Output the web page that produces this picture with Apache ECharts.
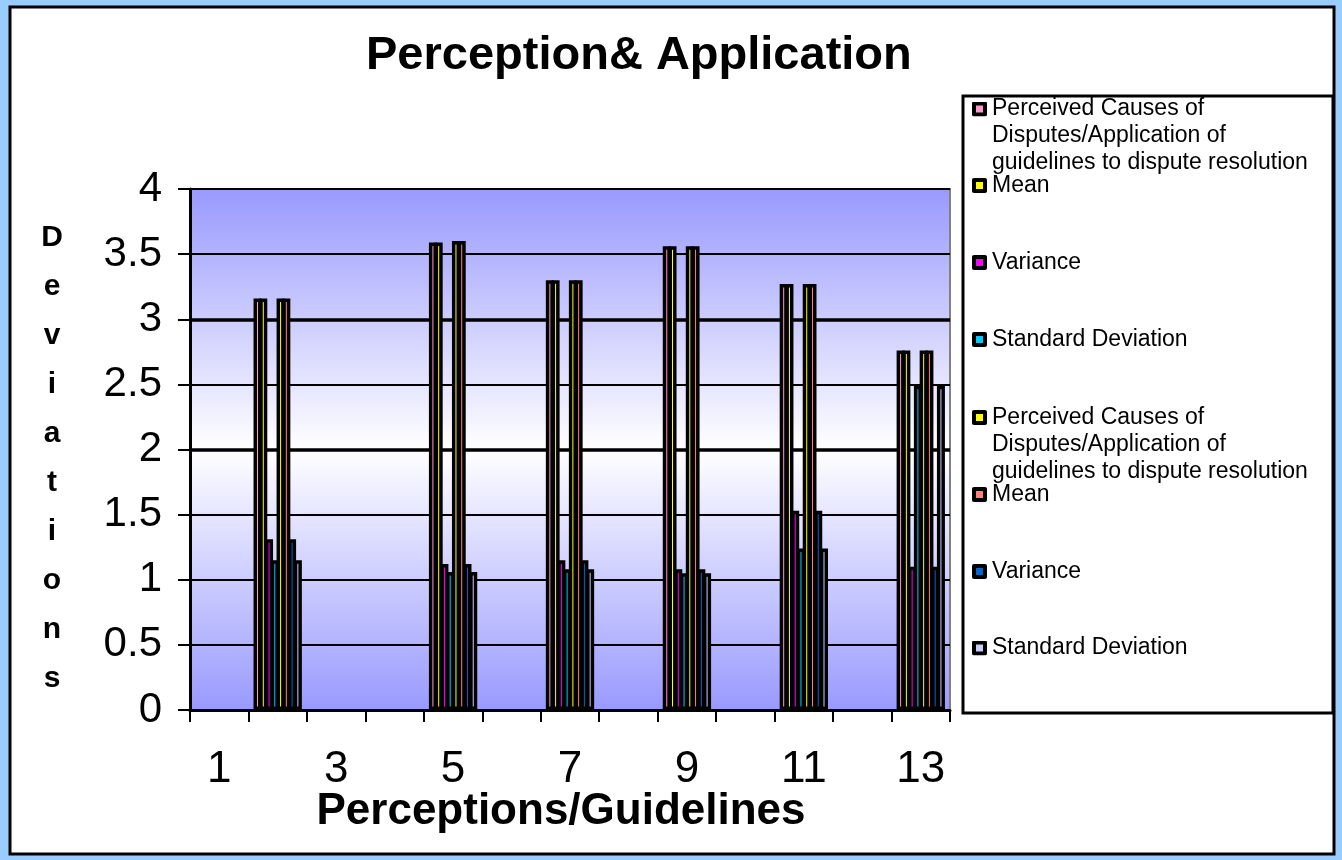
<!DOCTYPE html>
<html>
<head>
<meta charset="utf-8">
<script src="https://cdn.jsdelivr.net/npm/echarts@6/dist/echarts.min.js"></script>
<style>
  html, body { margin: 0; padding: 0; background: #99CCFF; }
  #chart { width: 1342px; height: 860px; }
</style>
</head>
<body>
<div id="chart"></div>
<script>
// Categories along the x axis (perceptions / guidelines 1..13)
const categories = ['1', '2', '3', '4', '5', '6', '7', '8', '9', '10', '11', '12', '13'];

// First block of statistics
const perceivedA = [null, 3.16, null, null, 3.59, null, 3.30, null, 3.56, null, 3.27, null, 2.76];
const meanA      = [null, 3.16, null, null, 3.59, null, 3.30, null, 3.56, null, 3.27, null, 2.76];
const varianceA  = [null, 1.31, null, null, 1.12, null, 1.15, null, 1.08, null, 1.53, null, 1.10];
const stdDevA    = [null, 1.15, null, null, 1.06, null, 1.08, null, 1.05, null, 1.24, null, 2.49];

// Second block of statistics
const perceivedB = [null, 3.16, null, null, 3.60, null, 3.30, null, 3.56, null, 3.27, null, 2.76];
const meanB      = [null, 3.16, null, null, 3.60, null, 3.30, null, 3.56, null, 3.27, null, 2.76];
const varianceB  = [null, 1.31, null, null, 1.12, null, 1.15, null, 1.08, null, 1.53, null, 1.10];
const stdDevB    = [null, 1.15, null, null, 1.06, null, 1.08, null, 1.05, null, 1.24, null, 2.49];

const perceivedLabel = 'Perceived Causes of\nDisputes/Application of\nguidelines to dispute resolution';
const seriesLabels = [perceivedLabel, 'Mean', 'Variance', 'Standard Deviation',
                      perceivedLabel, 'Mean', 'Variance', 'Standard Deviation'];
const seriesKeys = ['perceived-a', 'mean-a', 'variance-a', 'stddev-a',
                    'perceived-b', 'mean-b', 'variance-b', 'stddev-b'];
const seriesValues = [perceivedA, meanA, varianceA, stdDevA, perceivedB, meanB, varianceB, stdDevB];
const seriesColors = ['#FF99CC', '#FFFF00', '#FF00FF', '#00CCFF',
                      '#FFFF00', '#FF8080', '#0066CC', '#CCCCFF'];

const yTicks = { min: 0, max: 4, step: 0.5 };
// gridlines drawn heavier than the others
const heavyGridValues = [2, 3];
const titleText = 'Perception& Application';
const xAxisTitle = 'Perceptions/Guidelines';
const yAxisTitle = 'Deviations';

const FONT = '"Liberation Sans", Arial, sans-serif';

// vertical centre of each legend marker
const legendCentres = [109, 185.5, 262.5, 339.5, 417.5, 494.5, 571.5, 648];

// legend marker: black framed square filled with the series colour
function markerIcon(color) {
  const svg = '<svg xmlns="http://www.w3.org/2000/svg" width="15" height="15">' +
    '<rect x="0" y="0" width="15" height="15" rx="2" fill="#000"/>' +
    '<rect x="4" y="4" width="7" height="7" fill="' + color + '"/></svg>';
  return 'image://data:image/svg+xml;charset=utf-8,' + encodeURIComponent(svg);
}

const chart = echarts.init(document.getElementById('chart'), null, { renderer: 'canvas' });

const option = {
  backgroundColor: '#99CCFF',
  animation: false,
  title: {
    text: titleText,
    left: 366,
    top: 33,
    padding: 0,
    textStyle: { fontFamily: FONT, fontSize: 47, fontWeight: 'bold', color: '#000' }
  },
  graphic: [
    {
      type: 'rect', z: -10, silent: true,
      shape: { x: 10, y: 7, width: 1324, height: 847 },
      style: { fill: '#FFFFFF', stroke: '#000000', lineWidth: 3 }
    },
    {
      type: 'rect', z: -9, silent: true,
      shape: { x: 963, y: 96, width: 370, height: 617 },
      style: { fill: '#FFFFFF', stroke: '#000000', lineWidth: 3 }
    },
    {
      // stacked letters of the value-axis title
      type: 'text', silent: true,
      x: 52, y: 458,
      style: {
        text: yAxisTitle.split('').join('\n'),
        font: 'bold 30px ' + FONT,
        lineHeight: 49,
        align: 'center',
        verticalAlign: 'middle',
        fill: '#000'
      }
    }
  ],
  grid: {
    left: 190, right: 392, top: 189, bottom: 150,
    show: true,
    borderColor: '#808080',
    borderWidth: 2,
    backgroundColor: new echarts.graphic.LinearGradient(0, 0, 0, 1, [
      { offset: 0, color: '#9999FF' },
      { offset: 0.5, color: '#FFFFFF' },
      { offset: 1, color: '#9999FF' }
    ])
  },
  legend: seriesKeys.map((key, i) => {
    const multi = seriesLabels[i].indexOf('\n') >= 0;
    return {
      data: [key],
      orient: 'vertical',
      left: 972,
      top: legendCentres[i] - (multi ? 67.5 : 13.5),
      padding: 0,
      itemGap: 0,
      itemWidth: 15,
      itemHeight: 15,
      icon: markerIcon(seriesColors[i]),
      selectedMode: false,
      // two blank lines above the wrapped label put its first line level with the marker
      formatter: () => (multi ? ' \n \n' : '') + seriesLabels[i],
      textStyle: { fontFamily: FONT, fontSize: 23, lineHeight: 27, color: '#000' }
    };
  }),
  xAxis: {
    type: 'category',
    data: categories,
    name: xAxisTitle,
    nameLocation: 'middle',
    nameGap: 80,
    nameMoveOverlap: false,
    nameTextStyle: { fontFamily: FONT, fontSize: 44, fontWeight: 'bold', color: '#000', padding: [0, 18, 0, 0] },
    axisLine: { show: true, lineStyle: { color: '#000', width: 3 } },
    axisTick: { show: true, interval: 0, length: 12, lineStyle: { color: '#000', width: 2 } },
    axisLabel: { interval: 1, margin: 38, fontFamily: FONT, fontSize: 44, color: '#000' },
    splitLine: { show: false }
  },
  yAxis: {
    type: 'value',
    min: yTicks.min,
    max: yTicks.max,
    interval: yTicks.step,
    axisLine: { show: true, lineStyle: { color: '#000', width: 3 } },
    axisTick: { show: true, length: 12, lineStyle: { color: '#000', width: 2 } },
    axisLabel: { margin: 28, fontFamily: FONT, fontSize: 42, color: '#000' },
    splitLine: { show: true, lineStyle: { color: '#000', width: 2 } }
  },
  series: seriesKeys.map((key, i) => {
    const s = {
      name: key,
      type: 'bar',
      data: seriesValues[i],
      barWidth: 8,
      barGap: '-28%',
      itemStyle: { color: seriesColors[i], borderColor: '#000', borderWidth: 3.5 },
      emphasis: { disabled: true }
    };
    if (i === 0) {
      s.markLine = {
        silent: true,
        z: 1,
        symbol: 'none',
        label: { show: false },
        lineStyle: { color: '#000', width: 3.5, type: 'solid' },
        data: heavyGridValues.map(v => ({ yAxis: v }))
      };
    }
    return s;
  })
};

chart.setOption(option);
</script>
</body>
</html>
